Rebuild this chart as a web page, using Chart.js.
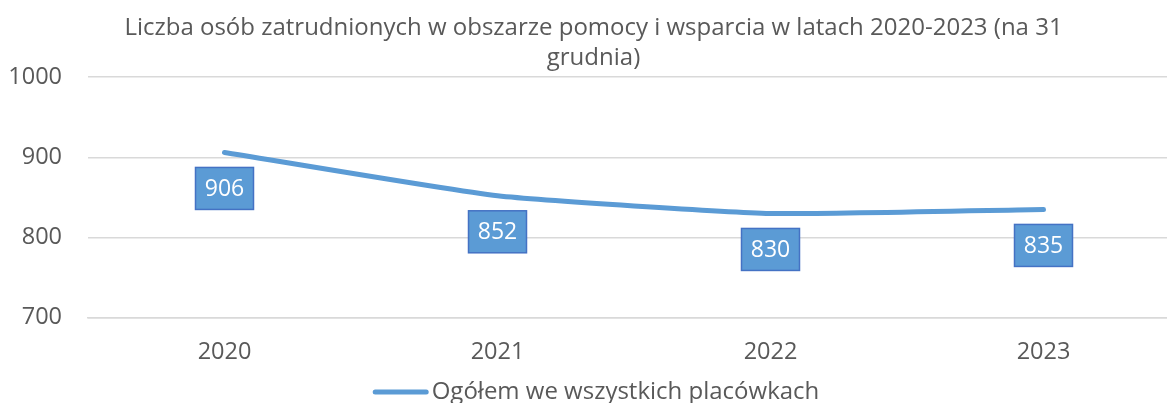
<!DOCTYPE html>
<html>
<head>
<meta charset="utf-8">
<script src="https://cdn.jsdelivr.net/npm/chart.js@4.4.1/dist/chart.umd.min.js"></script>
<style>
    html, body { margin: 0; padding: 0; background: #fff; overflow: hidden; }
    #wrap { width: 1185px; height: 403px; }
</style>
</head>
<body>
<div id="wrap"><canvas id="chart" width="1185" height="403"></canvas></div>
<script>
    // Chart data
    const years = ['2020', '2021', '2022', '2023'];
    const employees = [906, 852, 830, 835];
    const yTicks = [700, 800, 900, 1000];

    const seriesName = 'Ogółem we wszystkich placówkach';
    const titleLines = ['Liczba osób zatrudnionych w obszarze pomocy i wsparcia w latach 2020-2023 (na 31', 'grudnia)'];

    const textGray = '#595959';
    const gridGray = '#d9d9d9';
    const lineBlue = '#5b9bd5';
    const boxBorder = '#4472c4';
    const fontFamily = "'Open Sans', 'Noto Sans', sans-serif";

    // Boxed value labels under each point
    const boxLabels = {
        id: 'boxLabels',
        afterDatasetsDraw(chart) {
            const ctx = chart.ctx;
            const meta = chart.getDatasetMeta(0);
            ctx.save();
            ctx.font = '23px ' + fontFamily;
            ctx.textAlign = 'center';
            ctx.textBaseline = 'middle';
            meta.data.forEach((pt, i) => {
                const w = 58, h = 42;
                const x = pt.x - w / 2;
                const y = pt.y + 15;
                ctx.fillStyle = lineBlue;
                ctx.fillRect(x, y, w, h);
                ctx.strokeStyle = boxBorder;
                ctx.lineWidth = 1.5;
                ctx.strokeRect(x, y, w, h);
                ctx.fillStyle = '#ffffff';
                ctx.fillText(String(employees[i]), pt.x, y + h / 2 + 1);
            });
            ctx.restore();
        }
    };

    // Legend at the bottom: short line + series name, tight gap like the original
    const bottomLegend = {
        id: 'bottomLegend',
        afterDraw(chart) {
            const ctx = chart.ctx;
            ctx.save();
            ctx.font = '24px ' + fontFamily;
            const tw = ctx.measureText(seriesName).width;
            const lineW = 56, gap = 3;
            const total = lineW + gap + tw;
            const x0 = (chart.chartArea.left + chart.chartArea.right) / 2 - total / 2 - 38;
            const y = chart.height - 11;
            ctx.strokeStyle = lineBlue;
            ctx.lineWidth = 5;
            ctx.lineCap = 'round';
            ctx.beginPath();
            ctx.moveTo(x0 + 2.5, y);
            ctx.lineTo(x0 + lineW - 2.5, y);
            ctx.stroke();
            ctx.fillStyle = textGray;
            ctx.textAlign = 'left';
            ctx.textBaseline = 'middle';
            ctx.fillText(seriesName, x0 + lineW + gap, y);
            ctx.restore();
        }
    };

    new Chart(document.getElementById('chart'), {
        type: 'line',
        data: {
            labels: years,
            datasets: [{
                label: seriesName,
                data: employees,
                borderColor: lineBlue,
                backgroundColor: lineBlue,
                borderWidth: 5,
                borderCapStyle: 'round',
                borderJoinStyle: 'round',
                pointRadius: 0,
                tension: 0.15,
                fill: false
            }]
        },
        options: {
            responsive: false,
            animation: false,
            layout: { padding: { left: 7, right: 5, top: 0, bottom: 17 } },
            plugins: {
                title: {
                    display: true,
                    text: titleLines,
                    color: textGray,
                    font: { family: fontFamily, size: 24, weight: 'normal', lineHeight: 1.25 },
                    padding: { top: 13, bottom: 4 }
                },
                legend: { display: false },
                tooltip: { enabled: false }
            },
            scales: {
                x: {
                    offset: true,
                    grid: { display: false, drawTicks: false },
                    border: { display: true, color: gridGray, width: 1.5 },
                    ticks: { color: textGray, font: { family: fontFamily, size: 23.5 }, padding: 20 }
                },
                y: {
                    min: yTicks[0],
                    max: yTicks[yTicks.length - 1],
                    afterBuildTicks(axis) { axis.ticks = yTicks.map(v => ({ value: v })); },
                    afterFit(axis) { axis.width = 81; },
                    grid: { color: gridGray, lineWidth: 1.5, drawTicks: false },
                    border: { display: false },
                    ticks: {
                        color: textGray,
                        font: { family: fontFamily, size: 23.5 },
                        padding: 26,
                        callback: v => String(v)
                    }
                }
            }
        },
        plugins: [boxLabels, bottomLegend]
    });
</script>
</body>
</html>
